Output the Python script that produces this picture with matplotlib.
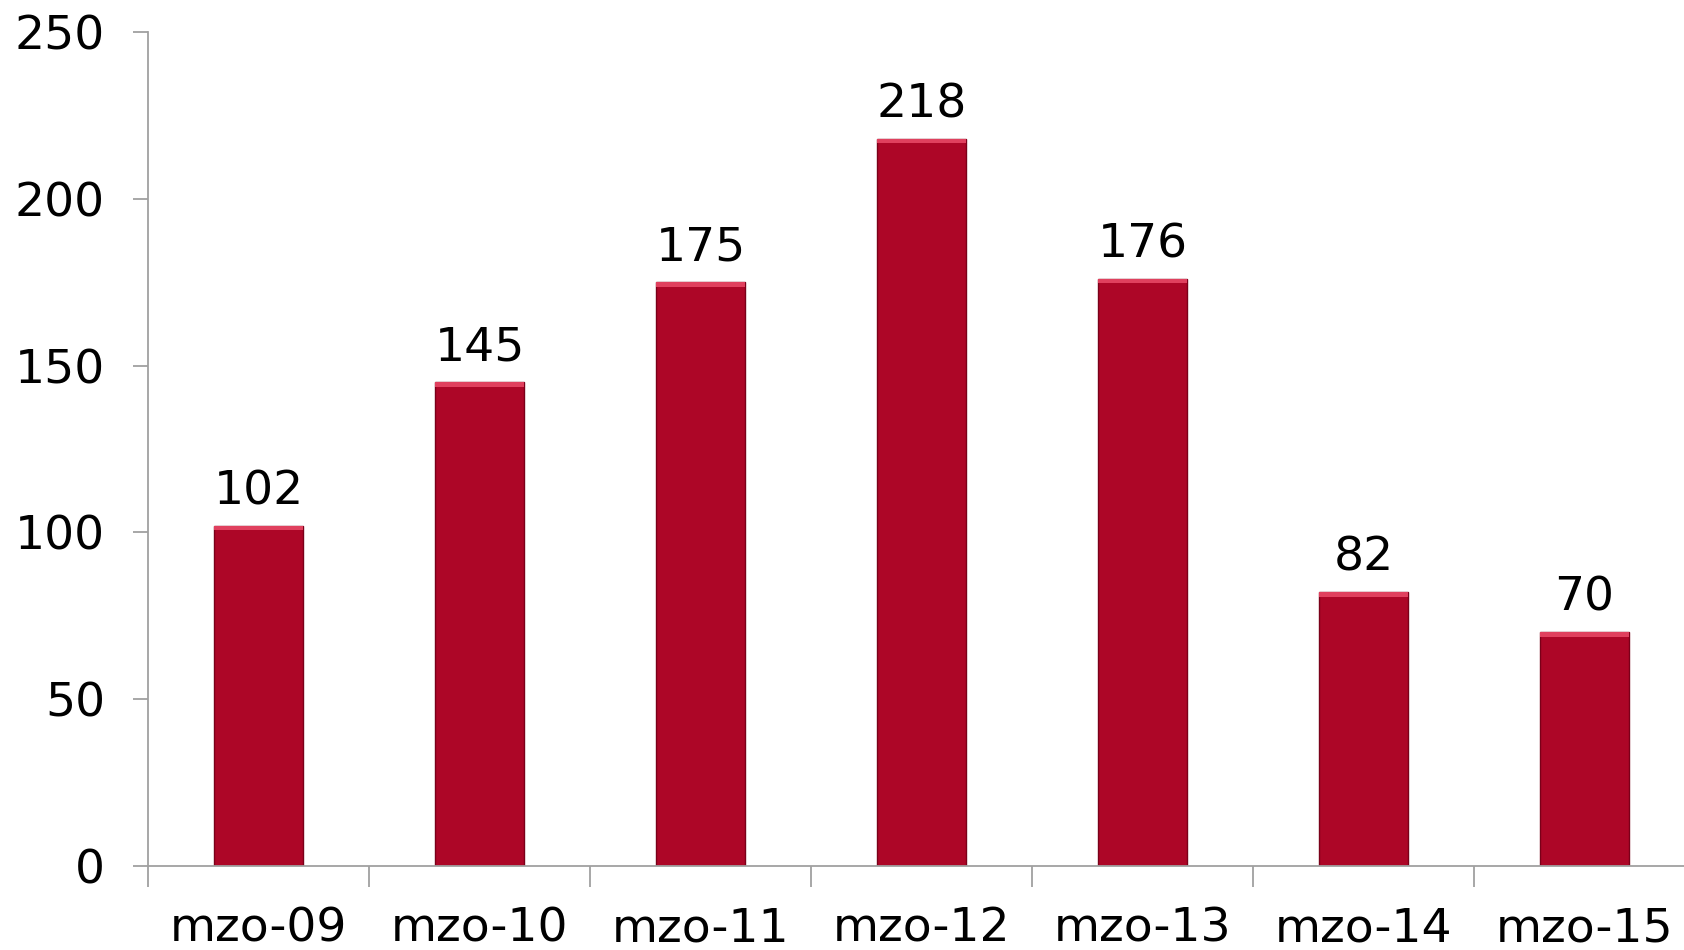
import matplotlib.pyplot as plt
import numpy as np

categories = ["mzo-09", "mzo-10", "mzo-11", "mzo-12", "mzo-13", "mzo-14", "mzo-15"]
values = [102, 145, 175, 218, 176, 82, 70]

fig = plt.figure(figsize=(16.84, 9.5), dpi=100)
ax = fig.add_axes([0.0879, 0.0884, 0.9186, 0.878])

x = np.arange(len(categories))
ax.bar(x, values, width=0.4, color="#AD0627", edgecolor="#7a0019", linewidth=1.0, zorder=2)
# light bevel strip on top of each bar
ax.bar(x, [1.4] * len(values), bottom=np.array(values) - 1.4, width=0.4,
       color="#e0405e", linewidth=0, zorder=3)

for xi, v in zip(x, values):
    ax.text(xi, v + 3.5, str(v), ha="center", va="bottom", fontsize=34)

ax.set_xlim(-0.5, len(categories) - 0.5)
ax.set_ylim(0, 250)
ax.set_yticks([0, 50, 100, 150, 200, 250])
ax.set_xticks(x)
ax.set_xticklabels(categories)
ax.set_xticks(np.arange(len(categories)) - 0.5, minor=True)

for s in ["top", "right"]:
    ax.spines[s].set_visible(False)
for s in ["left", "bottom"]:
    ax.spines[s].set_color("#a0a0a0")
    ax.spines[s].set_linewidth(1.3)

ax.tick_params(axis="y", labelsize=34, length=11, width=1.3, color="#a0a0a0", pad=20)
ax.tick_params(axis="x", which="major", labelsize=34, length=0, pad=29)
ax.tick_params(axis="x", which="minor", length=15, width=1.3, color="#a0a0a0")

fig.savefig("out.png", dpi=100)
